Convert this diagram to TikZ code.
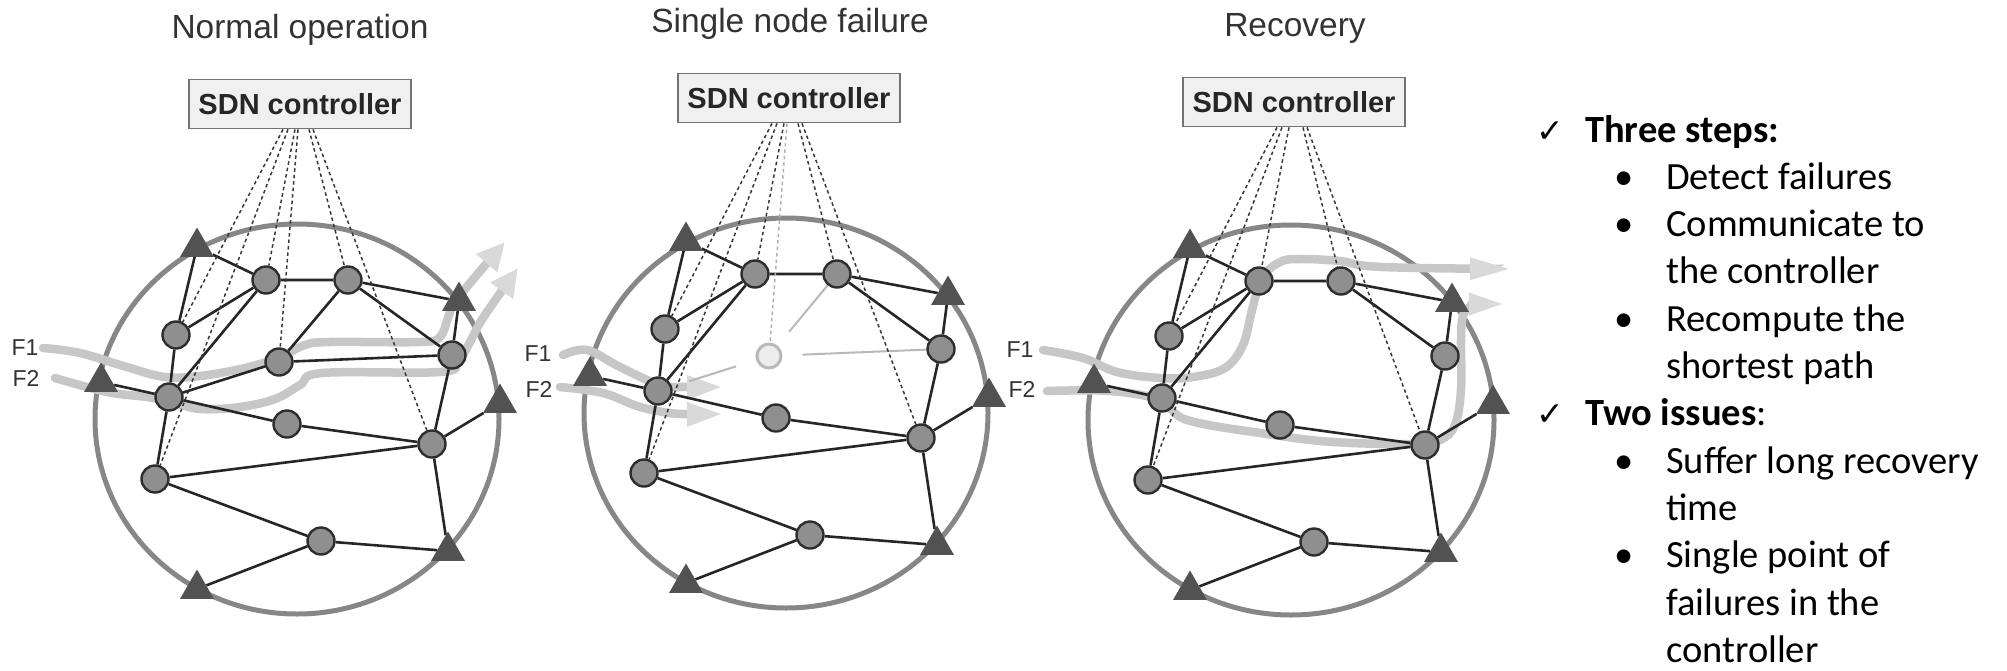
\documentclass[tikz,border=0pt]{standalone}
\usepackage{fontspec}
\setmainfont{Liberation Sans}
\newfontfamily\notefont{Carlito}
\newfontfamily\tickfont{DejaVu Sans}
\usetikzlibrary{shapes.geometric}
\usetikzlibrary{arrows.meta}
\usetikzlibrary{backgrounds}

\tikzset{
  sw/.style={circle, draw=black!82, line width=2.4pt, fill=black!44, minimum size=27pt, inner sep=0pt},
  gone/.style={circle, draw=black!28, line width=3pt, fill=black!7, minimum size=24pt, inner sep=0pt},
  host/.style={regular polygon, regular polygon sides=3, fill=black!68, minimum size=39pt, inner sep=0pt},
  link/.style={line width=2.6pt, draw=black!85},
  oldlink/.style={line width=2pt, draw=black!28},
  ctlline/.style={line width=1.5pt, draw=black!78, dash pattern=on 3.5pt off 3pt},
  flow/.style={line width=8.5pt, draw=black!22, line cap=round},
  ring/.style={draw=black!47, line width=5pt},
  ctlbox/.style={draw=black!55, line width=1.8pt, fill=black!6, minimum width=222pt, minimum height=49pt, inner sep=0pt, text=black!85, font=\bfseries\fontsize{29}{30}\selectfont},
  paneltitle/.style={text=black!80, font=\fontsize{33.5}{35}\selectfont},
  flowlbl/.style={text=black!80, font=\fontsize{23}{24}\selectfont},
  note/.style={anchor=base west, inner sep=0pt, font=\notefont\fontsize{38.5}{46}\selectfont},
  tick/.style={anchor=base west, inner sep=0pt, font=\tickfont\fontsize{33}{34}\selectfont},
}

\newcommand\netcore{%
  \node[sw] (a) at (266,280) {};
  \node[sw] (b) at (348,280) {};
  \node[sw] (c) at (176,335) {};
  \node[sw] (e) at (452,355) {};
  \node[sw] (f) at (169,397) {};
  \node[sw] (g) at (287,424) {};
  \node[sw] (h) at (432,444) {};
  \node[sw] (i) at (155,479) {};
  \node[sw] (j) at (321,541) {};
  \node[host] (t1) at (197,247) {};
  \node[host] (t2) at (459,301) {};
  \node[host] (t3) at (101,382) {};
  \node[host] (t4) at (500,403) {};
  \node[host] (t5) at (448,551) {};
  \node[host] (t6) at (197,589) {};
  \begin{scope}[on background layer]
    \draw[link] (t1) -- (a) (a) -- (b) (b) -- (t2) (t2) -- (e) (e) -- (b)
      (t1) -- (c) (c) -- (a) (a) -- (f) (f) -- (c)
      (t3) -- (f) (f) -- (g) (g) -- (h) (h) -- (t4)
      (e) -- (h) (h) -- (i) (i) -- (f)
      (h) -- (t5) (t5) -- (j) (j) -- (t6) (i) -- (j);
  \end{scope}
}

\begin{document}
\begin{tikzpicture}[x=1pt, y=-1pt]
\useasboundingbox (0,0) rectangle (2007,670);

\begin{scope}[name prefix=n-]
  \node[paneltitle] (head) at (300,30) {Normal operation};
  \node[ctlbox] (ctl) at (300,104) {SDN controller};
  \begin{scope}[on background layer]
    \draw[ring] (297,419) ellipse [x radius=202, y radius=195];
    \draw[flow, -{Triangle[length=28pt, width=26pt, color=black!15]}] plot[smooth, tension=0.6] coordinates
      {(43,348) (80,353) (130,368) (165,377) (200,376) (245,368) (280,357) (305,345) (330,342) (420,342) (440,337) (448,318) (458,298) (505,242)};
    \draw[flow, -{Triangle[length=28pt, width=26pt, color=black!15]}] plot[smooth, tension=0.6] coordinates
      {(55,378) (107,392) (147,397) (172,402) (200,409) (240,407) (275,399) (300,385) (322,373) (440,372) (458,362) (470,342) (483,318) (518,268)};
  \end{scope}
  \netcore
  \node[sw] (d) at (279,362) {};
  \begin{scope}[on background layer]
    \draw[link] (b) -- (d) (d) -- (e) (d) -- (f);
    \draw[ctlline] ([xshift=-17pt]ctl.south) -- (c);
    \draw[ctlline] ([xshift=-12pt]ctl.south) -- (i);
    \draw[ctlline] ([xshift=-5pt]ctl.south) -- (a);
    \draw[ctlline] ([xshift=-2pt]ctl.south) -- (d);
    \draw[ctlline] ([xshift=9pt]ctl.south) -- (b);
    \draw[ctlline] ([xshift=13pt]ctl.south) -- (h);
  \end{scope}
  \node[flowlbl] (f1) at (25,348) {F1};
  \node[flowlbl] (f2) at (26,378) {F2};
\end{scope}

\begin{scope}[shift={(489,-6)}, name prefix=s-]
  \node[paneltitle] (head) at (301,30) {Single node failure};
  \node[ctlbox] (ctl) at (300,104) {SDN controller};
  \begin{scope}[on background layer]
    \draw[ring] (297,419) ellipse [x radius=202, y radius=195];
    \draw[flow, -{Triangle[length=36pt, width=22pt, color=black!15]}] plot[smooth, tension=0.6] coordinates
      {(74,361) (98,356) (131,373) (171,391) (198,393) (234,393)};
    \draw[flow, -{Triangle[length=36pt, width=22pt, color=black!15]}] plot[smooth, tension=0.6] coordinates
      {(71,393) (114,399) (148,412) (174,418) (194,420) (234,420)};
  \end{scope}
  \netcore
  \node[gone] (d) at (280,362) {};
  \begin{scope}[on background layer]
    \draw[oldlink, shorten <=18pt] (d) -- (b);
    \draw[oldlink, shorten <=20pt] (d) -- (e);
    \draw[oldlink, shorten <=21pt, shorten >=18pt] (d) -- (f);
    \draw[ctlline] ([xshift=-17pt]ctl.south) -- (c);
    \draw[ctlline] ([xshift=-12pt]ctl.south) -- (i);
    \draw[ctlline] ([xshift=-5pt]ctl.south) -- (a);
    \draw[ctlline, draw=black!30] ([xshift=-2pt]ctl.south) -- (d);
    \draw[ctlline] ([xshift=9pt]ctl.south) -- (b);
    \draw[ctlline] ([xshift=13pt]ctl.south) -- (h);
  \end{scope}
  \node[flowlbl] (f1) at (49,360) {F1};
  \node[flowlbl] (f2) at (50,395) {F2};
\end{scope}

\begin{scope}[shift={(993,1)}, name prefix=r-]
  \node[paneltitle] (head) at (302,27) {Recovery};
  \node[ctlbox] (ctl) at (301,101) {SDN controller};
  \begin{scope}[on background layer]
    \draw[ring] (298,419) ellipse [x radius=203, y radius=195];
    \draw[flow, -{Triangle[length=42pt, width=20pt, color=black!15]}] plot[smooth, tension=0.6] coordinates
      {(50,349) (90,357) (124,371) (167,377) (200,376) (232,367) (250,344) (259,309) (269,277) (287,261) (307,258) (347,260) (374,265) (427,267) (519,268)};
    \draw[flow, -{Triangle[length=36pt, width=20pt, color=black!15]}] plot[smooth, tension=0.6] coordinates
      {(54,390) (117,390) (167,399) (194,419) (274,433) (340,441) (420,443) (447,439) (462,424) (468,389) (468,339) (470,315) (480,305) (512,303)};
  \end{scope}
  \netcore
  \begin{scope}[on background layer]
    \draw[ctlline] ([xshift=-17pt]ctl.south) -- (c);
    \draw[ctlline] ([xshift=-12pt]ctl.south) -- (i);
    \draw[ctlline] ([xshift=-5pt]ctl.south) -- (a);
    \draw[ctlline] ([xshift=9pt]ctl.south) -- (b);
    \draw[ctlline] ([xshift=13pt]ctl.south) -- (h);
  \end{scope}
  \node[flowlbl] (f1) at (27,349) {F1};
  \node[flowlbl] (f2) at (29,388) {F2};
\end{scope}

\node[tick] (tick1) at (1536,142) {✓};
\node[note] (steps) at (1585,142) {\bfseries Three steps:};
\node[note] (dot1) at (1614,189.3) {•};
\node[note] (step1) at (1666,189.3) {Detect failures};
\node[note] (dot2) at (1614,236.6) {•};
\node[note] (step2a) at (1666,236.6) {Communicate to};
\node[note] (step2b) at (1666,283.9) {the controller};
\node[note] (dot3) at (1614,331.2) {•};
\node[note] (step3a) at (1666,331.2) {Recompute the};
\node[note] (step3b) at (1666,378.5) {shortest path};
\node[tick] (tick2) at (1536,425.8) {✓};
\node[note] (issues) at (1585,425.8) {\textbf{Two issues}:};
\node[note] (dot4) at (1614,473.1) {•};
\node[note] (issue1a) at (1666,473.1) {Suffer long recovery};
\node[note] (issue1b) at (1666,520.4) {time};
\node[note] (dot5) at (1614,567.7) {•};
\node[note] (issue2a) at (1666,567.7) {Single point of};
\node[note] (issue2b) at (1666,615) {failures in the};
\node[note] (issue2c) at (1666,662.3) {controller};
\end{tikzpicture}
\end{document}
